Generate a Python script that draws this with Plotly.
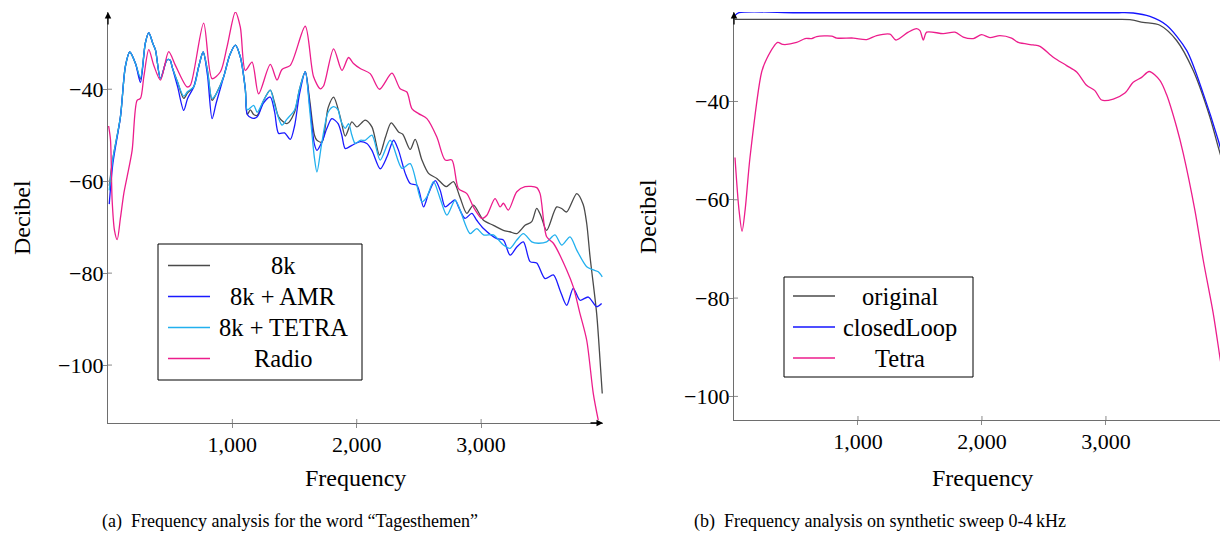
import plotly.graph_objects as go

# ---------------- Left chart data: "Tagesthemen" ----------------
f_8k = [10, 40, 100, 140, 175, 221, 261, 300, 328, 360, 382, 422, 475, 500, 516, 560, 609, 640, 689, 730,
        765, 800, 837, 870, 930, 980, 1024, 1064, 1104, 1120, 1145, 1171, 1200, 1250, 1305, 1340, 1372, 1439,
        1500, 1540, 1586, 1620, 1660, 1680, 1720, 1770, 1814, 1867, 1908, 1961, 2001, 2068, 2122, 2183, 2230,
        2277, 2336, 2370, 2430, 2470, 2524, 2577, 2644, 2719, 2778, 2830, 2885, 2938, 3019, 3099, 3179, 3230,
        3287, 3353, 3407, 3447, 3480, 3527, 3608, 3650, 3688, 3769, 3820, 3849, 3876, 3929, 3956, 3974]
db_8k = [-61, -55, -46, -35, -31.9, -34.4, -37.8, -30, -27.7, -30, -31.5, -37.7, -33.6, -33.7, -35.2, -38.5,
         -42, -40.8, -39.5, -35, -31.9, -36, -42.4, -41, -37.3, -32.5, -30.4, -33, -40, -45.5, -44.5, -45.5,
         -45.7, -42.5, -40.2, -43, -46, -47.5, -45, -40, -36.2, -42, -50, -51.1, -51.5, -44, -41.7, -46, -50.2,
         -47.1, -48.2, -46.7, -48.2, -54.3, -50.5, -47.3, -49.3, -49.8, -53.1, -50.9, -55.4, -58.3, -59.4,
         -61.2, -60.1, -63.5, -67, -65.2, -68.5, -69.6, -70.7, -71, -71.4, -69.6, -68.8, -65.9, -67.5, -70.7,
         -65.6, -66, -66.7, -62.7, -65, -69.2, -76.5, -88.8, -98.9, -106.2]

f_amr = [10, 40, 100, 140, 175, 221, 261, 300, 328, 360, 382, 422, 475, 500, 516, 560, 609, 640, 689, 730,
         765, 800, 837, 870, 930, 980, 1024, 1064, 1104, 1120, 1158, 1200, 1250, 1305, 1340, 1372, 1420, 1466,
         1500, 1540, 1586, 1620, 1660, 1680, 1720, 1760, 1800, 1850, 1880, 1908, 1961, 2028, 2081, 2122, 2189,
         2243, 2296, 2336, 2390, 2430, 2484, 2537, 2577, 2631, 2671, 2711, 2751, 2791, 2818, 2871, 2925, 2965,
         3019, 3126, 3179, 3233, 3287, 3340, 3394, 3447, 3514, 3581, 3634, 3688, 3741, 3795, 3862, 3929, 3969]
db_amr = [-65, -56, -46, -35, -31.9, -34.4, -38.5, -30, -27.7, -30, -31.5, -37.7, -33.6, -33.7, -35.2, -39.5,
          -44.6, -42, -39.5, -35, -31.9, -37, -46.4, -43, -37.3, -32.5, -30.4, -33, -40, -45.5, -46.3, -46,
          -43, -41.7, -45, -49.6, -49.5, -50.9, -48, -41, -36.2, -43, -52, -53.3, -51.5, -48.5, -46.4, -47.5,
          -50, -52.9, -52.2, -51.4, -51.8, -53.3, -57.3, -54.7, -51.1, -53.3, -58.3, -60.5, -60.9, -65.6,
          -62.7, -59.9, -62, -65.6, -64.8, -64.1, -65.6, -68.1, -67, -68.5, -70.3, -72.5, -72.8, -76.1, -74.3,
          -73.2, -77.5, -77.8, -81.2, -80.4, -83.7, -87, -83.3, -85.9, -85.2, -87.3, -86.6]

f_tetra = [10, 40, 100, 140, 175, 221, 261, 300, 328, 360, 382, 422, 475, 500, 516, 560, 609, 640, 689, 730,
           765, 800, 837, 870, 930, 980, 1024, 1064, 1104, 1120, 1171, 1200, 1250, 1305, 1340, 1399, 1439,
           1500, 1540, 1586, 1620, 1660, 1680, 1720, 1770, 1814, 1850, 1870, 1908, 1934, 1961, 1988, 2028,
           2068, 2122, 2189, 2269, 2363, 2430, 2524, 2564, 2617, 2671, 2725, 2791, 2831, 2912, 2965, 3019,
           3099, 3179, 3233, 3287, 3340, 3407, 3460, 3527, 3594, 3648, 3715, 3769, 3849, 3902, 3942, 3974]
db_tetra = [-62, -55, -46, -35, -31.9, -34.4, -37.5, -30, -27.7, -30, -31.5, -37.7, -33.6, -33.7, -35.2,
            -38.5, -41.5, -40.5, -39.5, -35, -31.9, -36, -42, -41, -37.3, -32.5, -30.4, -33, -40, -44.5,
            -43.5, -45, -42.5, -40.2, -43.5, -47.8, -46.5, -44.5, -40, -36.2, -44, -55, -58, -51.5, -45,
            -43.8, -44.5, -46.7, -48.5, -47.5, -50, -51.8, -51.1, -51.1, -50, -55.4, -51.1, -57.2, -56.2,
            -64.5, -63.4, -60.1, -63.8, -67.4, -64.1, -66.3, -71.4, -70.3, -71.7, -71.7, -73.9, -74.6, -72.8,
            -71.4, -73.2, -73.5, -73.2, -71.7, -73.9, -72.1, -75, -78.6, -79.3, -79.7, -80.8]

f_radio = [5, 20, 33, 52, 74, 100, 127, 154, 194, 234, 261, 288, 328, 368, 422, 488, 542, 636, 663, 769, 837,
           904, 957, 1024, 1064, 1104, 1158, 1211, 1305, 1359, 1399, 1466, 1586, 1653, 1707, 1733, 1814, 1881,
           1934, 1974, 2028, 2108, 2183, 2283, 2349, 2403, 2443, 2497, 2564, 2644, 2711, 2765, 2818, 2885,
           2938, 3006, 3046, 3112, 3153, 3179, 3219, 3287, 3353, 3447, 3474, 3527, 3581, 3688, 3741, 3795,
           3849, 3902, 3942]
db_radio = [-48, -51, -64, -70.7, -72.7, -68, -62.7, -59, -53.3, -42.4, -42, -37.3, -31.4, -34.8, -38, -31.8,
            -34.8, -39.5, -39.1, -25.6, -37.7, -36.2, -30.8, -23.2, -26.5, -35.9, -34.1, -41, -34.6, -38,
            -35.7, -34.8, -26.3, -37.3, -39.9, -39.3, -31.2, -35.9, -33.1, -34.4, -35.5, -36.6, -40, -36.5,
            -39.9, -40.6, -44.2, -45.3, -46.4, -50.4, -55.4, -55.4, -61.6, -62.7, -65.6, -68.1, -67.4, -63.8,
            -65.6, -64.8, -66.3, -62.3, -61.2, -61.4, -62.7, -72.1, -73.5, -79.3, -83, -88.8, -94.6, -106.2,
            -112]

# ---------------- Right chart data: synthetic sweep ----------------
f_orig = [5, 500, 1000, 1500, 2000, 2500, 2800, 3000, 3100, 3194, 3300, 3435, 3570, 3704, 3839, 3906, 3960]
db_orig = [-23.3, -23.3, -23.3, -23.3, -23.3, -23.3, -23.3, -23.3, -23.3, -23.35, -23.9, -24.5, -27.6,
           -33.7, -43.2, -49.3, -54]

f_closed = [5, 40, 500, 1000, 1500, 2000, 2500, 2800, 3000, 3100, 3220, 3355, 3489, 3651, 3785, 3906, 3960]
db_closed = [-22.6, -21.95, -21.95, -21.95, -21.95, -21.95, -21.95, -21.95, -21.95, -21.95, -22.0, -22.7,
             -24.5, -29.6, -38.4, -47.9, -53]

f_tet = [8, 40, 65, 90, 129, 223, 264, 352, 393, 505, 573, 627, 667, 788, 828, 963, 1070, 1151, 1258, 1306,
         1406, 1473, 1500, 1527, 1554, 1688, 1782, 1849, 1930, 1997, 2064, 2145, 2239, 2293, 2414, 2468, 2575,
         2683, 2764, 2844, 2911, 2965, 3059, 3153, 3220, 3288, 3349, 3435, 3489, 3570, 3624, 3718, 3785, 3866,
         3919, 3950]
db_tet = [-51.4, -62, -66.4, -62, -51.4, -34, -31.3, -28, -28.4, -28, -27.2, -27.2, -26.8, -26.7, -27.1,
          -27.1, -27.4, -26.6, -26.3, -27.5, -25.9, -25.2, -25.6, -27.5, -25.9, -26.2, -25.9, -26.9, -27.2,
          -26.4, -27, -26.6, -27.1, -28, -28.5, -28.8, -31, -32.7, -34, -36.7, -37.8, -39.7, -39.5, -38.3,
          -36.1, -35.1, -33.9, -35.7, -38.6, -45.2, -50.6, -62.2, -72.3, -83.2, -92, -97]

x_ticks = [1000, 2000, 3000]
y_ticks = [-40, -60, -80, -100]

left_names = ["8k", "8k + AMR", "8k + TETRA", "Radio"]
left_colors = ["#4a4a4a", "#1a1aff", "#22b0ee", "#ec1d8c"]
right_names = ["original", "closedLoop", "Tetra"]
right_colors = ["#4a4a4a", "#1414ff", "#ec1d8c"]

FONT = "Liberation Serif"
W, H = 1220, 535

fig = go.Figure()

def add(x, y, name, color, xa, ya):
    fig.add_trace(go.Scatter(x=x, y=y, name=name, mode="lines", showlegend=False,
                             line=dict(color=color, width=1.3, shape="spline", smoothing=0.8),
                             xaxis=xa, yaxis=ya))

for fx, dy, nm, c in zip([f_8k, f_amr, f_tetra, f_radio], [db_8k, db_amr, db_tetra, db_radio],
                         left_names, left_colors):
    add(fx, dy, nm, c, "x", "y")
for fx, dy, nm, c in zip([f_orig, f_closed, f_tet], [db_orig, db_closed, db_tet], right_names, right_colors):
    add(fx, dy, nm, c, "x2", "y2")

axis_common = dict(showgrid=False, zeroline=False, showline=True, linecolor="#6e6e6e", linewidth=1.3,
                   ticks="outside", ticklen=4, tickcolor="#8a8a8a", tickwidth=1,
                   tickfont=dict(family=FONT, size=22, color="black"), automargin=False)

def px_x(p):
    return p / W

def px_y(p):
    return 1 - p / H

fig.update_layout(
    width=W, height=H, margin=dict(l=0, r=0, t=0, b=0),
    paper_bgcolor="white", plot_bgcolor="white", showlegend=False,
    xaxis=dict(domain=[px_x(108), px_x(603)], range=[0, 3980], anchor="y",
               tickvals=x_ticks, tickformat=",", ticklabelstandoff=-3, **axis_common),
    yaxis=dict(domain=[px_y(423), px_y(12)], range=[-112.6, -23.2], anchor="x",
               tickvals=y_ticks, ticklabelstandoff=-5, **axis_common),
    xaxis2=dict(domain=[px_x(734), 1.0], range=[0, 3920], anchor="y2",
                tickvals=x_ticks, tickformat=",", ticklabelstandoff=-3, **axis_common),
    yaxis2=dict(domain=[px_y(420), px_y(12)], range=[-104.8, -21.8], anchor="x2",
                tickvals=y_ticks, ticklabelstandoff=-5, **axis_common),
)

ann = []
shapes = []

# inner halves of the crossing tick marks, placed from the tick arrays
for xa, ya in [("x", "y"), ("x2", "y2")]:
    for t in x_ticks:
        shapes.append(dict(type="line", xref=xa, yref=ya + " domain", x0=t, x1=t,
                           ysizemode="pixel", yanchor=0, y0=0, y1=4,
                           line=dict(color="#8a8a8a", width=1)))
    for t in y_ticks:
        shapes.append(dict(type="line", yref=ya, xref=xa + " domain", y0=t, y1=t,
                           xsizemode="pixel", xanchor=0, x0=0, x1=4,
                           line=dict(color="#8a8a8a", width=1)))

# axis arrows
ann.append(dict(xref="x domain", yref="y domain", x=0, y=1, ax=0, ay=14, showarrow=True,
                arrowhead=2, arrowsize=1, arrowwidth=1.3, arrowcolor="black", text=""))
ann.append(dict(xref="x domain", yref="y domain", x=1, y=0, ax=-14, ay=0, showarrow=True,
                arrowhead=2, arrowsize=1, arrowwidth=1.3, arrowcolor="black", text=""))
ann.append(dict(xref="x2 domain", yref="y2 domain", x=0, y=1, ax=0, ay=14, showarrow=True,
                arrowhead=2, arrowsize=1, arrowwidth=1.3, arrowcolor="black", text=""))
# axis titles
title_font = dict(family=FONT, size=24, color="black")
ann.append(dict(xref="paper", yref="paper", x=px_x(355), y=px_y(478), text="Frequency",
                showarrow=False, font=title_font, xanchor="center", yanchor="middle"))
ann.append(dict(xref="paper", yref="paper", x=px_x(982), y=px_y(478), text="Frequency",
                showarrow=False, font=title_font, xanchor="center", yanchor="middle"))
ann.append(dict(xref="paper", yref="paper", x=px_x(22), y=px_y(218), text="Decibel",
                showarrow=False, font=title_font, textangle=-90, xanchor="center", yanchor="middle"))
ann.append(dict(xref="paper", yref="paper", x=px_x(648), y=px_y(216), text="Decibel",
                showarrow=False, font=title_font, textangle=-90, xanchor="center", yanchor="middle"))
# captions
cap_font = dict(family=FONT, size=18, color="black")
ann.append(dict(xref="paper", yref="paper", x=px_x(290), y=px_y(521),
                text="(a)\u2002Frequency analysis for the word \u201cTagesthemen\u201d",
                showarrow=False, font=cap_font, xanchor="center", yanchor="middle"))
ann.append(dict(xref="paper", yref="paper", x=px_x(880), y=px_y(521),
                text="(b)\u2002Frequency analysis on synthetic sweep 0-4\u2009kHz",
                showarrow=False, font=cap_font, xanchor="center", yanchor="middle"))

# legends (box, line samples, centred labels)
leg_font = dict(family=FONT, size=24.5, color="black")

def legend_box(x0, y0, x1, y1, line_x0, line_x1, text_cx, rows, names, colors):
    shapes.append(dict(type="rect", xref="paper", yref="paper", x0=px_x(x0), x1=px_x(x1),
                       y0=px_y(y1), y1=px_y(y0), line=dict(color="black", width=1),
                       fillcolor="white", layer="above"))
    for ry, nm, c in zip(rows, names, colors):
        shapes.append(dict(type="line", xref="paper", yref="paper", x0=px_x(line_x0), x1=px_x(line_x1),
                           y0=px_y(ry), y1=px_y(ry), line=dict(color=c, width=1.3), layer="above"))
        ann.append(dict(xref="paper", yref="paper", x=px_x(text_cx), y=px_y(ry), text=nm,
                        showarrow=False, font=leg_font, xanchor="center", yanchor="middle"))

legend_box(158, 244, 362, 380, 168, 210, 283, [265.5, 296.5, 327.5, 358.5], left_names, left_colors)
legend_box(784, 277, 973, 377, 793, 835, 900, [296, 327, 358], right_names, right_colors)

fig.update_layout(annotations=ann, shapes=shapes)

fig.write_html("out.html", config={"displayModeBar": False},
               post_script="document.body.style.margin='0px';")
